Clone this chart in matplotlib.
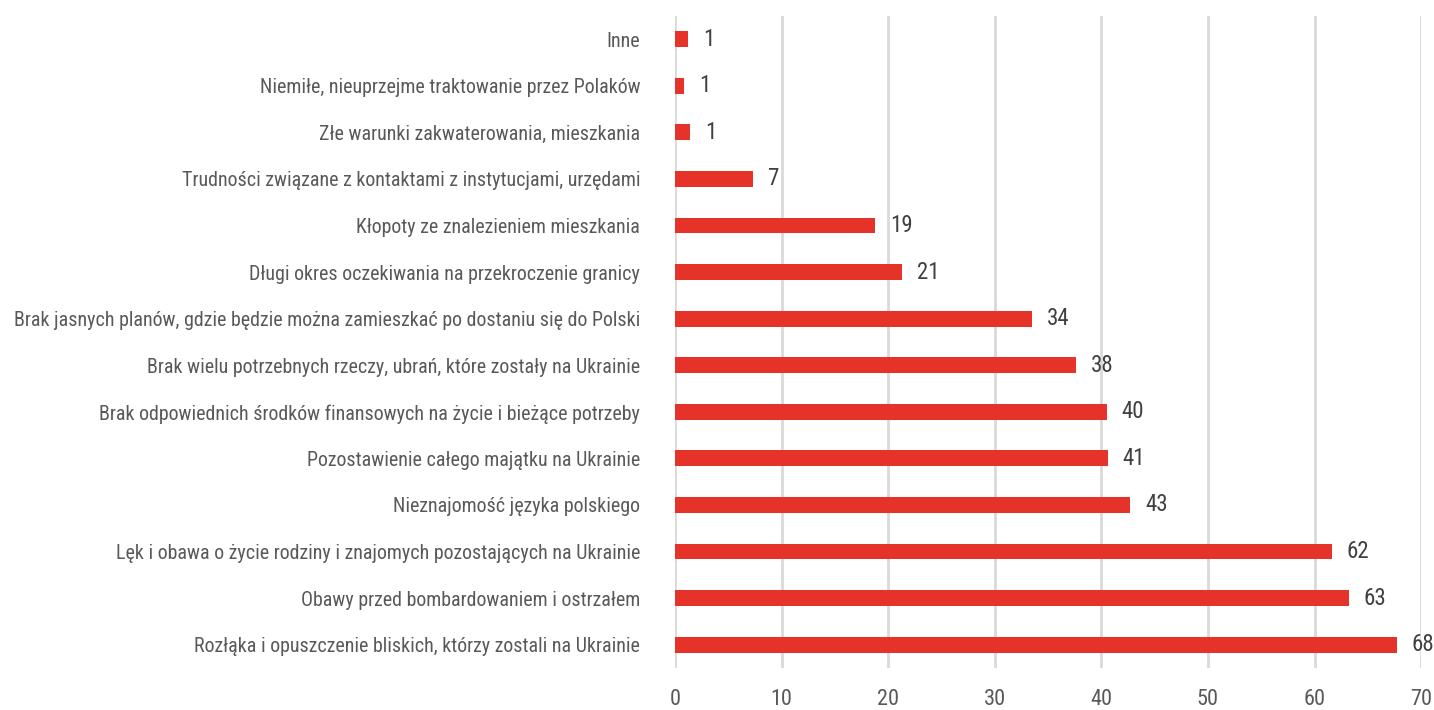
import matplotlib
matplotlib.use("Agg")
import matplotlib.pyplot as plt
from matplotlib import font_manager

categories = [
    "Inne",
    "Niemiłe, nieuprzejme traktowanie przez Polaków",
    "Złe warunki zakwaterowania, mieszkania",
    "Trudności związane z kontaktami z instytucjami, urzędami",
    "Kłopoty ze znalezieniem mieszkania",
    "Długi okres oczekiwania na przekroczenie granicy",
    "Brak jasnych planów, gdzie będzie można zamieszkać po dostaniu się do Polski",
    "Brak wielu potrzebnych rzeczy, ubrań, które zostały na Ukrainie",
    "Brak odpowiednich środków finansowych na życie i bieżące potrzeby",
    "Pozostawienie całego majątku na Ukrainie",
    "Nieznajomość języka polskiego",
    "Lęk i obawa o życie rodziny i znajomych pozostających na Ukrainie",
    "Obawy przed bombardowaniem i ostrzałem",
    "Rozłąka i opuszczenie bliskich, którzy zostali na Ukrainie",
]
values = [1.25, 0.84, 1.44, 7.35, 18.8, 21.3, 33.5, 37.6, 40.5, 40.6, 42.7, 61.6, 63.2, 67.7]
value_labels = ["1", "1", "1", "7", "19", "21", "34", "38", "40", "41", "43", "62", "63", "68"]
xticks = [0, 10, 20, 30, 40, 50, 60, 70]

names = {f.name for f in font_manager.fontManager.ttflist}
fam = [f for f in ["Roboto Condensed", "Liberation Sans Narrow", "DejaVu Sans Condensed", "Liberation Sans"] if f in names]
plt.rcParams['font.family'] = fam + ["DejaVu Sans"]

fig = plt.figure(figsize=(14.34, 7.10), dpi=100)
ax = fig.add_axes([0.4707, 0.0592, 0.5203, 0.9183])

ypos = list(range(len(categories)))
ax.barh(ypos, values, height=0.34, color="#e5332a", zorder=3)
ax.set_ylim(len(categories) - 0.5, -0.5)
ax.set_xlim(0, 70)
ax.set_xticks(xticks)
ax.set_xticklabels([str(t) for t in xticks], fontsize=16, color="#595959")
ax.set_yticks(ypos)
ax.set_yticklabels(categories, fontsize=14.4, color="#595959")
ax.tick_params(axis="y", length=0, pad=25)
ax.tick_params(axis="x", length=0, pad=15)
ax.grid(axis="x", color="#d9d9d9", linewidth=2, zorder=0)
for s in ax.spines.values():
    s.set_visible(False)

for y, v, lab in zip(ypos, values, value_labels):
    ax.annotate(lab, (v, y), xytext=(15, 0), textcoords="offset pixels",
                ha="left", va="center", fontsize=16.5, color="#404040")

fig.savefig("out.png", dpi=100)
